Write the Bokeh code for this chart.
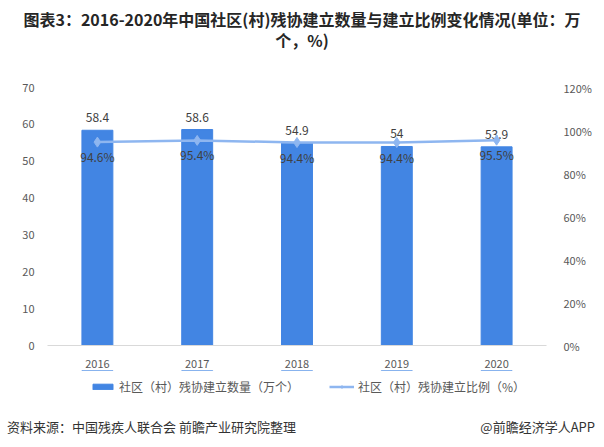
from bokeh.plotting import figure
from bokeh.layouts import column
from bokeh.models import (ColumnDataSource, Range1d, LinearAxis, Legend, LegendItem,
                          FixedTicker, CustomJSTickFormatter, Div)
from bokeh.embed import file_html
from bokeh.resources import INLINE
from bokeh.core.properties import value

years = ["2016", "2017", "2018", "2019", "2020"]
counts = [58.4, 58.6, 54.9, 54, 53.9]
ratios = [94.6, 95.4, 94.4, 94.4, 95.5]
count_labels = ["58.4", "58.6", "54.9", "54", "53.9"]
ratio_labels = ["94.6%", "95.4%", "94.4%", "94.4%", "95.5%"]
left_ticks = [0, 10, 20, 30, 40, 50, 60, 70]
right_ticks = [0, 20, 40, 60, 80, 100, 120]
title_lines = ["图表3：2016-2020年中国社区(村)残协建立数量与建立比例变化情况(单位：万", "个，%)"]
series_names = ["社区（村）残协建立数量（万个）", "社区（村）残协建立比例（%）"]
source_text = "资料来源：中国残疾人联合会 前瞻产业研究院整理"
brand_text = "@前瞻经济学人APP"

FONT = "Noto Sans CJK SC"
BAR = "#4285E3"
LINE = "#8EB6F0"
TXT = "#404040"
TICK = "#595959"
W = 604

# ---- title (HTML text)
title_div = Div(
    text=("<div style=\"width:604px;text-align:center;font-family:'Noto Sans CJK SC';"
          "font-size:16px;font-weight:bold;color:#262626;line-height:21px;"
          "padding-top:9px;white-space:nowrap;\">"
          + title_lines[0] + "<br>" + title_lines[1] + "</div>"),
    width=W, height=78, margin=0)

# ---- main chart
src = ColumnDataSource(dict(year=years, count=counts, ratio=ratios,
                            clab=count_labels, rlab=ratio_labels))

p = figure(x_range=years, y_range=Range1d(0, 70), width=W, height=292,
           output_backend="svg", toolbar_location=None,
           min_border_left=47, min_border_right=58, min_border_top=9, min_border_bottom=25)
p.extra_y_ranges = {"pct": Range1d(0, 120)}
p.outline_line_color = None
p.xgrid.grid_line_color = None
p.ygrid.grid_line_color = None

p.vbar(x="year", top="count", width=0.31, color=BAR, source=src)
p.text(x="year", y="count", text="clab", source=src, text_align="center",
       text_baseline="bottom", y_offset=-8, text_font=value(FONT),
       text_font_size="12px", text_color=TXT)

p.line(x="year", y="ratio", y_range_name="pct", line_color=LINE, line_width=2.5, source=src)
p.scatter(x="year", y="ratio", y_range_name="pct", marker="diamond", size=10,
          fill_color=LINE, line_color=LINE, source=src)
p.text(x="year", y="ratio", text="rlab", y_range_name="pct", source=src, text_align="center",
       text_baseline="top", y_offset=6, text_font=value(FONT),
       text_font_size="12px", text_color=TXT)

p.yaxis.ticker = FixedTicker(ticks=left_ticks)
p.yaxis.axis_line_color = None
p.yaxis.major_tick_line_color = None
p.yaxis.minor_tick_line_color = None
p.yaxis.major_label_text_color = TICK
p.yaxis.major_label_text_font = FONT
p.yaxis.major_label_text_font_size = "11px"
p.yaxis.major_label_standoff = 7

ra = LinearAxis(y_range_name="pct", ticker=FixedTicker(ticks=right_ticks),
                formatter=CustomJSTickFormatter(code="return tick + '%';"))
ra.axis_line_color = None
ra.major_tick_line_color = None
ra.minor_tick_line_color = None
ra.major_label_text_color = TICK
ra.major_label_text_font = FONT
ra.major_label_text_font_size = "11px"
ra.major_label_standoff = 11
p.add_layout(ra, "right")

p.xaxis.axis_line_color = "#D9D9D9"
p.xaxis.major_tick_line_color = None
p.xaxis.minor_tick_line_color = None
p.xaxis.major_label_text_color = TICK
p.xaxis.major_label_text_font = FONT
p.xaxis.major_label_text_font_size = "11px"
p.xaxis.major_label_standoff = 8

# ---- legend strip: same series drawn on a range where they are off-view,
#      so that only the legend shows
leg = figure(x_range=years, y_range=Range1d(-2, -1), width=W, height=40,
             x_axis_type=None, y_axis_type=None, output_backend="svg",
             toolbar_location=None, min_border=0)
leg.outline_line_color = None
leg.xgrid.grid_line_color = None
leg.ygrid.grid_line_color = None
lb = leg.vbar(x="year", top="count", width=0.31, color=BAR, source=src)
ll = leg.line(x="year", y="ratio", line_color=LINE, line_width=2.5, source=src)
lm = leg.scatter(x="year", y="ratio", marker="diamond", size=8,
                 fill_color=LINE, line_color=LINE, source=src)
legend = Legend(items=[LegendItem(label=series_names[0], renderers=[lb]),
                       LegendItem(label=series_names[1], renderers=[ll, lm])],
                orientation="horizontal", location=(43, 15),
                label_text_font=FONT, label_text_font_size="12px", label_text_color=TICK,
                glyph_width=25, glyph_height=7, label_height=7, spacing=30,
                border_line_color=None, background_fill_alpha=0, margin=0, padding=0,
                label_standoff=4)
leg.add_layout(legend, "center")

# ---- source line (HTML text)
source_div = Div(
    text=("<div style=\"width:596px;display:flex;justify-content:space-between;"
          "font-family:'Noto Sans CJK SC';font-size:13px;color:#333333;line-height:20px;"
          "padding:7px 1px 0 7px;white-space:nowrap;\"><span>" + source_text +
          "</span><span>" + brand_text + "</span></div>"),
    width=W, height=37, margin=0)

layout = column(title_div, p, leg, source_div, spacing=0)
open("out.html", "w").write(file_html(layout, INLINE))
